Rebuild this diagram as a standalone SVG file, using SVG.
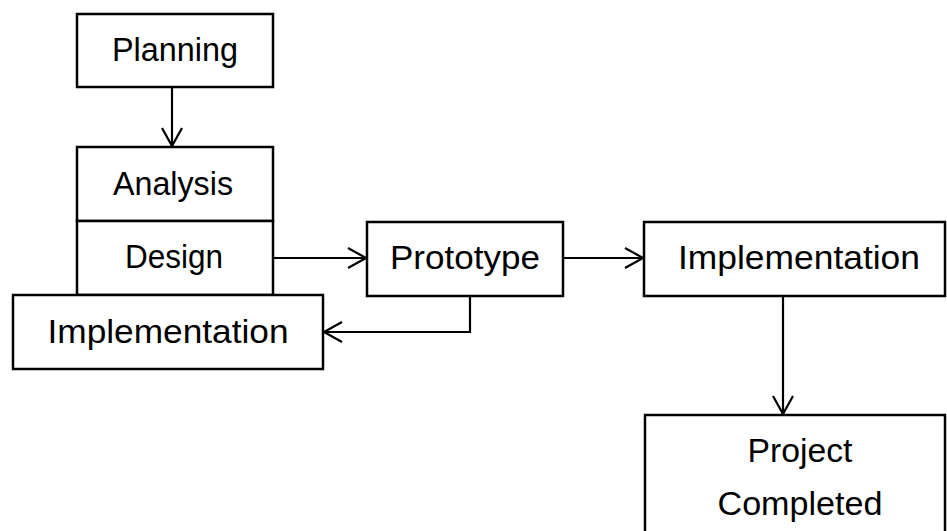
<svg xmlns="http://www.w3.org/2000/svg" width="947" height="531" viewBox="0 0 947 531">
<defs>
<style>
.box{fill:#fff;stroke:#000;stroke-width:2.5}
.lbl{font-family:"Liberation Sans",Arial,sans-serif;font-size:34px;fill:#000;text-anchor:middle}
.con{fill:none;stroke:#000;stroke-width:2.2}
</style>
<marker id="arr" markerUnits="userSpaceOnUse" markerWidth="24" markerHeight="24" viewBox="-20 -12 24 24" refX="0" refY="0" orient="auto">
<path d="M-18,-10 L0,0 L-18,10" fill="none" stroke="#000" stroke-width="2.2"/>
</marker>
</defs>
<rect width="947" height="531" fill="#fff"/>
<g id="connectors">
<line class="con" x1="172" y1="87" x2="172" y2="146" marker-end="url(#arr)"/>
<line class="con" x1="273" y1="258" x2="366" y2="258" marker-end="url(#arr)"/>
<line class="con" x1="563" y1="258" x2="643" y2="258" marker-end="url(#arr)"/>
<polyline class="con" points="470,296 470,332 324,332" marker-end="url(#arr)"/>
<line class="con" x1="783" y1="296" x2="783" y2="414" marker-end="url(#arr)"/>
</g>
<g id="planning"><rect class="box" x="77" y="14" width="196" height="73"/><text class="lbl" x="175" y="61" textLength="126" lengthAdjust="spacingAndGlyphs">Planning</text></g>
<g id="analysis"><rect class="box" x="77" y="147" width="196" height="74"/><text class="lbl" x="173" y="195" textLength="120" lengthAdjust="spacingAndGlyphs">Analysis</text></g>
<g id="design"><rect class="box" x="77" y="221" width="196" height="74"/><text class="lbl" x="174" y="268" textLength="98" lengthAdjust="spacingAndGlyphs">Design</text></g>
<g id="implementation1"><rect class="box" x="13" y="295" width="310" height="74"/><text class="lbl" x="168" y="343" textLength="241" lengthAdjust="spacingAndGlyphs">Implementation</text></g>
<g id="prototype"><rect class="box" x="367" y="222" width="196" height="74"/><text class="lbl" x="465" y="269" textLength="150" lengthAdjust="spacingAndGlyphs">Prototype</text></g>
<g id="implementation2"><rect class="box" x="644" y="222" width="301" height="74"/><text class="lbl" x="799" y="269" textLength="242" lengthAdjust="spacingAndGlyphs">Implementation</text></g>
<g id="completed"><rect class="box" x="645" y="415" width="300" height="130"/><text class="lbl" x="800" y="462" textLength="105" lengthAdjust="spacingAndGlyphs">Project</text><text class="lbl" x="800" y="515" textLength="165" lengthAdjust="spacingAndGlyphs">Completed</text></g>
</svg>
